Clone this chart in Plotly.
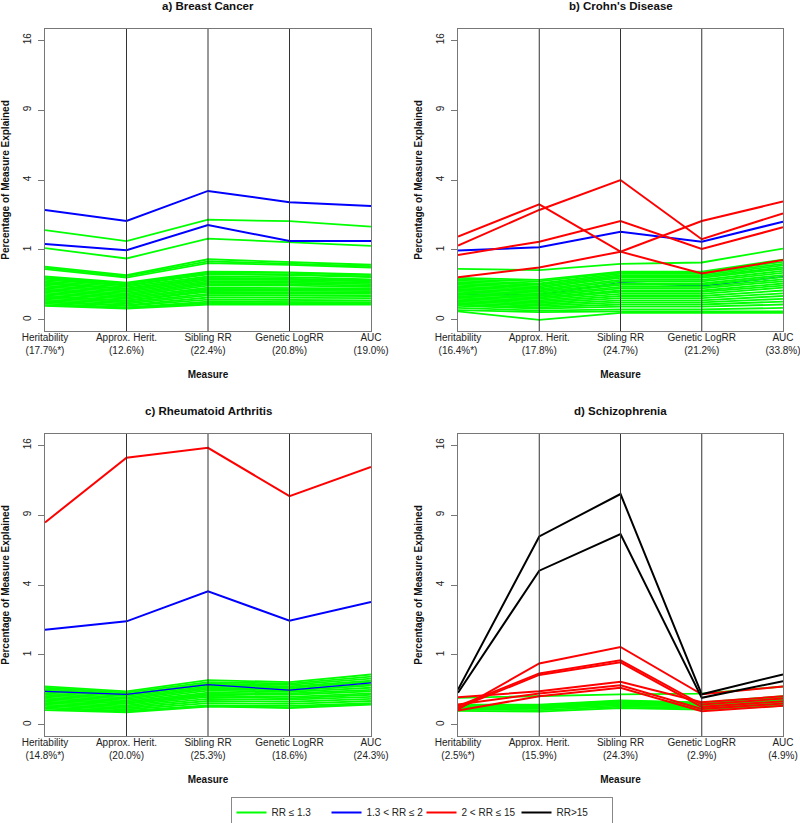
import numpy as np
import plotly.graph_objects as go

MEASURES = ["Heritability", "Approx. Herit.", "Sibling RR", "Genetic LogRR", "AUC"]
X_POS = [1, 2, 3, 4, 5]

TITLES = ["a) Breast Cancer", "b) Crohn's Disease", "c) Rheumatoid Arthritis", "d) Schizophrenia"]
PCTS = [
    ["17.7%*", "12.6%", "22.4%", "20.8%", "19.0%"],
    ["16.4%*", "17.8%", "24.7%", "21.2%", "33.8%"],
    ["14.8%*", "20.0%", "25.3%", "18.6%", "24.3%"],
    ["2.5%*", "15.9%", "24.3%", "2.9%", "4.9%"],
]

Y_TICK_VALUES = [0, 1, 4, 9, 16]

# ---------------- a) Breast Cancer ----------------
BC_GREEN = [
    [1.65, 1.27, 2.05, 1.99, 1.78],
    [1.05, 0.77, 1.35, 1.23, 1.12],
    [0.58, 0.41, 0.75, 0.69, 0.62],
    [0.55, 0.39, 0.70, 0.65, 0.59],
    [0.524, 0.366, 0.656, 0.617, 0.56],
    [0.384, 0.281, 0.476, 0.462, 0.423],
    [0.360, 0.270, 0.462, 0.449, 0.410],
    [0.348, 0.250, 0.436, 0.423, 0.384],
    [0.325, 0.240, 0.423, 0.410, 0.372],
    [0.303, 0.221, 0.384, 0.372, 0.336],
    [0.281, 0.203, 0.360, 0.348, 0.325],
    [0.260, 0.194, 0.348, 0.336, 0.314],
    [0.240, 0.176, 0.325, 0.325, 0.303],
    [0.221, 0.160, 0.303, 0.303, 0.281],
    [0.203, 0.144, 0.281, 0.281, 0.260],
    [0.185, 0.130, 0.260, 0.260, 0.240],
    [0.168, 0.116, 0.240, 0.240, 0.221],
    [0.152, 0.102, 0.212, 0.212, 0.203],
    [0.137, 0.090, 0.194, 0.194, 0.185],
    [0.123, 0.078, 0.176, 0.176, 0.168],
    [0.109, 0.073, 0.160, 0.160, 0.152],
    [0.096, 0.063, 0.137, 0.137, 0.137],
    [0.084, 0.053, 0.123, 0.123, 0.116],
    [0.073, 0.044, 0.102, 0.102, 0.096],
    [0.063, 0.040, 0.084, 0.084, 0.078],
    [0.053, 0.032, 0.068, 0.068, 0.063],
    [0.044, 0.029, 0.058, 0.058, 0.053],
    [0.040, 0.026, 0.048, 0.048, 0.048],
]
BC_BLUE = [
    [2.47, 2.00, 3.40, 2.83, 2.65],
    [1.18, 0.99, 1.84, 1.27, 1.27],
]
BC_RED = []
BC_BLACK = []
BC_BLUE_LOW = []

# ---------------- b) Crohn's Disease ----------------
CD_GREEN = [
    [0.533, 0.504, 0.640, 0.672, 1.04],
    [0.360, 0.325, 0.476, 0.476, 0.740],
    [0.336, 0.303, 0.462, 0.449, 0.689],
    [0.314, 0.270, 0.436, 0.436, 0.640],
    [0.292, 0.250, 0.410, 0.410, 0.608],
    [0.270, 0.230, 0.384, 0.384, 0.5625],
    [0.250, 0.212, 0.360, 0.360, 0.533],
    [0.230, 0.194, 0.325, 0.325, 0.490],
    [0.212, 0.176, 0.303, 0.303, 0.449],
    [0.194, 0.160, 0.270, 0.270, 0.410],
    [0.176, 0.144, 0.250, 0.250, 0.372],
    [0.160, 0.130, 0.221, 0.221, 0.336],
    [0.144, 0.116, 0.203, 0.203, 0.303],
    [0.130, 0.102, 0.176, 0.176, 0.270],
    [0.116, 0.090, 0.160, 0.160, 0.240],
    [0.102, 0.078, 0.137, 0.137, 0.212],
    [0.090, 0.068, 0.116, 0.116, 0.176],
    [0.078, 0.058, 0.096, 0.096, 0.144],
    [0.068, 0.048, 0.078, 0.078, 0.116],
    [0.058, 0.040, 0.0625, 0.0625, 0.090],
    [0.048, 0.032, 0.048, 0.048, 0.068],
    [0.040, 0.026, 0.036, 0.036, 0.048],
    [0.029, 0.017, 0.0225, 0.0225, 0.029],
    [0.0196, 0.012, 0.0144, 0.0144, 0.0144],
    [0.0144, 0.0, 0.010, 0.010, 0.010],
]
CD_BLUE = [
    [0.98, 1.08, 1.59, 1.25, 1.97],
]
CD_BLUE_LOW = [
    [0.134, 0.128, 0.28, 0.236, 0.38],
]
CD_RED = [
    [1.42, 2.73, 0.95, 0.44, 0.73],
    [1.13, 2.47, 4.00, 1.33, 2.32],
    [0.86, 1.25, 2.00, 1.03, 1.75],
    [0.37, 0.56, 0.95, 2.00, 2.86],
]
CD_BLACK = []

# ---------------- c) Rheumatoid Arthritis ----------------
RA_GREEN = [
    [0.303, 0.230, 0.410, 0.372, 0.518],
    [0.281, 0.212, 0.372, 0.348, 0.476],
    [0.260, 0.194, 0.348, 0.325, 0.436],
    [0.240, 0.185, 0.325, 0.303, 0.397],
    [0.221, 0.168, 0.303, 0.281, 0.372],
    [0.203, 0.152, 0.281, 0.260, 0.336],
    [0.185, 0.137, 0.260, 0.240, 0.314],
    [0.168, 0.123, 0.240, 0.221, 0.281],
    [0.152, 0.109, 0.212, 0.203, 0.250],
    [0.137, 0.096, 0.194, 0.185, 0.230],
    [0.123, 0.090, 0.176, 0.160, 0.203],
    [0.109, 0.078, 0.160, 0.144, 0.185],
    [0.096, 0.068, 0.137, 0.130, 0.160],
    [0.084, 0.058, 0.116, 0.109, 0.137],
    [0.073, 0.048, 0.096, 0.090, 0.116],
    [0.0625, 0.040, 0.078, 0.073, 0.096],
    [0.053, 0.036, 0.073, 0.0625, 0.090],
    [0.044, 0.032, 0.068, 0.058, 0.084],
]
RA_BLUE = [
    [1.85, 2.19, 3.65, 2.22, 3.09],
]
RA_BLUE_LOW = [
    [0.23, 0.19, 0.33, 0.245, 0.36],
]
RA_RED = [
    [8.38, 14.6, 15.7, 10.7, 13.6],
]
RA_BLACK = []

# ---------------- d) Schizophrenia ----------------
SZ_GREEN = [
    [0.149, 0.167, 0.190, 0.200, 0.300],
    [0.084, 0.084, 0.1225, 0.102, 0.168],
    [0.078, 0.078, 0.116, 0.096, 0.152],
    [0.073, 0.073, 0.109, 0.090, 0.137],
    [0.068, 0.068, 0.102, 0.084, 0.130],
    [0.0625, 0.0625, 0.096, 0.078, 0.116],
    [0.058, 0.058, 0.090, 0.073, 0.109],
    [0.053, 0.053, 0.078, 0.068, 0.096],
    [0.048, 0.044, 0.068, 0.058, 0.084],
    [0.040, 0.036, 0.058, 0.048, 0.073],
]
SZ_BLUE = []
SZ_BLUE_LOW = []
SZ_RED = [
    [0.048, 0.77, 1.24, 0.19, 0.30],
    [0.071, 0.54, 0.85, 0.084, 0.141],
    [0.059, 0.51, 0.80, 0.066, 0.114],
    [0.156, 0.23, 0.38, 0.104, 0.167],
    [0.084, 0.20, 0.32, 0.052, 0.093],
    [0.042, 0.167, 0.28, 0.038, 0.074],
]
SZ_BLACK = [
    [0.254, 7.26, 10.9, 0.19, 0.52],
    [0.21, 4.86, 7.45, 0.149, 0.39],
]

PANELS = [
    (BC_BLUE_LOW, BC_GREEN, BC_BLUE, BC_RED, BC_BLACK, False),
    (CD_BLUE_LOW, CD_GREEN, CD_BLUE, CD_RED, CD_BLACK, False),
    (RA_BLUE_LOW, RA_GREEN, RA_BLUE, RA_RED, RA_BLACK, True),
    (SZ_BLUE_LOW, SZ_GREEN, SZ_BLUE, SZ_RED, SZ_BLACK, False),
]

GROUP_NAMES = ["RR \u2264 1.3", "1.3 < RR \u2264 2", "2 < RR \u2264 15", "RR>15"]
GROUP_COLORS = ["#00FF00", "#0000FF", "#FF0000", "#000000"]

FONT = "Liberation Sans, Arial, Helvetica, sans-serif"

# panel placement (pixels in an 800 x 823 canvas)
W, H = 800, 823
PX = [(45, 371), (458, 783), (45, 371), (458, 783)]
PY = [(29, 331), (29, 331), (434, 736), (434, 736)]

fig = go.Figure()
legend_done = set()

for i, (blue_low, green, blue, red, black, low_above) in enumerate(PANELS):
    xa = "x" if i == 0 else f"x{i+1}"
    ya = "y" if i == 0 else f"y{i+1}"
    if low_above:
        ordered = [(0, green, 1.8), (1, blue_low, 1.3), (1, blue, 2.0), (2, red, 2.0), (3, black, 2.0)]
    else:
        ordered = [(1, blue_low, 1.6), (0, green, 1.8), (1, blue, 2.0), (2, red, 2.0), (3, black, 2.0)]
    for gi, rows, lw in ordered:
        for row in rows:
            show = gi not in legend_done
            legend_done.add(gi)
            fig.add_trace(go.Scatter(
                x=X_POS, y=np.sqrt(np.array(row, dtype=float)),
                mode="lines", line=dict(color=GROUP_COLORS[gi], width=lw),
                xaxis=xa, yaxis=ya, name=GROUP_NAMES[gi], legendgroup=str(gi),
                showlegend=show, legendrank=gi + 1, hoverinfo="skip",
            ))

layout = dict(
    width=W, height=H, margin=dict(l=0, r=0, t=0, b=0, autoexpand=False),
    paper_bgcolor="white", plot_bgcolor="white",
    font=dict(family=FONT, size=10, color="#222"),
    showlegend=True,
    legend=dict(
        orientation="h", x=421.5 / W, y=1 - 797 / H, xanchor="center", yanchor="top",
        bordercolor="#888", borderwidth=1, font=dict(size=10, color="#222"),
        entrywidth=50, entrywidthmode="pixels", traceorder="normal",
        itemclick=False, itemdoubleclick=False, tracegroupgap=0,
    ),
)
annotations = []
shapes = []
for i in range(4):
    sfx = "" if i == 0 else str(i + 1)
    x0, x1 = PX[i]
    y0, y1 = PY[i]
    ticktext = [f"{m}<br>({p})" for m, p in zip(MEASURES, PCTS[i])]
    layout["xaxis" + sfx] = dict(
        domain=[x0 / W, x1 / W], anchor="y" + sfx, range=[1, 5], automargin=False,
        tickvals=X_POS, ticktext=ticktext, ticks="", showgrid=False, zeroline=False,
        showline=True, mirror=True, linecolor="#777", linewidth=1,
        tickfont=dict(size=10, color="#222"), ticklabelstandoff=-3,
        ticklabeloverflow="allow",
        title=dict(text="<b>Measure</b>", font=dict(size=10, color="#111"), standoff=15),
    )
    layout["yaxis" + sfx] = dict(
        domain=[1 - y1 / H, 1 - y0 / H], anchor="x" + sfx, range=[-0.16, 4.16],
        automargin=False,
        tickvals=list(np.sqrt(Y_TICK_VALUES)), ticktext=[str(v) for v in Y_TICK_VALUES],
        tickangle=-90, ticks="outside", ticklen=6, tickcolor="#777",
        showgrid=False, zeroline=False,
        showline=True, mirror=True, linecolor="#777", linewidth=1,
        tickfont=dict(size=10, color="#222"), ticklabelstandoff=3,
        title=dict(text="<b>Percentage of Measure Explained</b>",
                   font=dict(size=10, color="#111"), standoff=10),
    )
    annotations.append(dict(
        text=f"<b>{TITLES[i]}</b>", xref=f"x{sfx} domain", yref=f"y{sfx} domain",
        x=0.5, y=1, yanchor="bottom", yshift=15, showarrow=False,
        font=dict(size=11.5, color="#111"),
    ))
    for xv in X_POS[1:-1]:
        shapes.append(dict(
            type="line", xref="x" + sfx, yref=f"y{sfx} domain",
            x0=xv, x1=xv, y0=0, y1=1, layer="above",
            line=dict(color="#333", width=1),
        ))
layout["annotations"] = annotations
layout["shapes"] = shapes
fig.update_layout(**layout)

fig.write_html(
    "out.html",
    config={"displayModeBar": False},
    post_script="document.body.style.margin='0';document.body.style.padding='0';"
                "document.documentElement.style.overflow='hidden';",
)
